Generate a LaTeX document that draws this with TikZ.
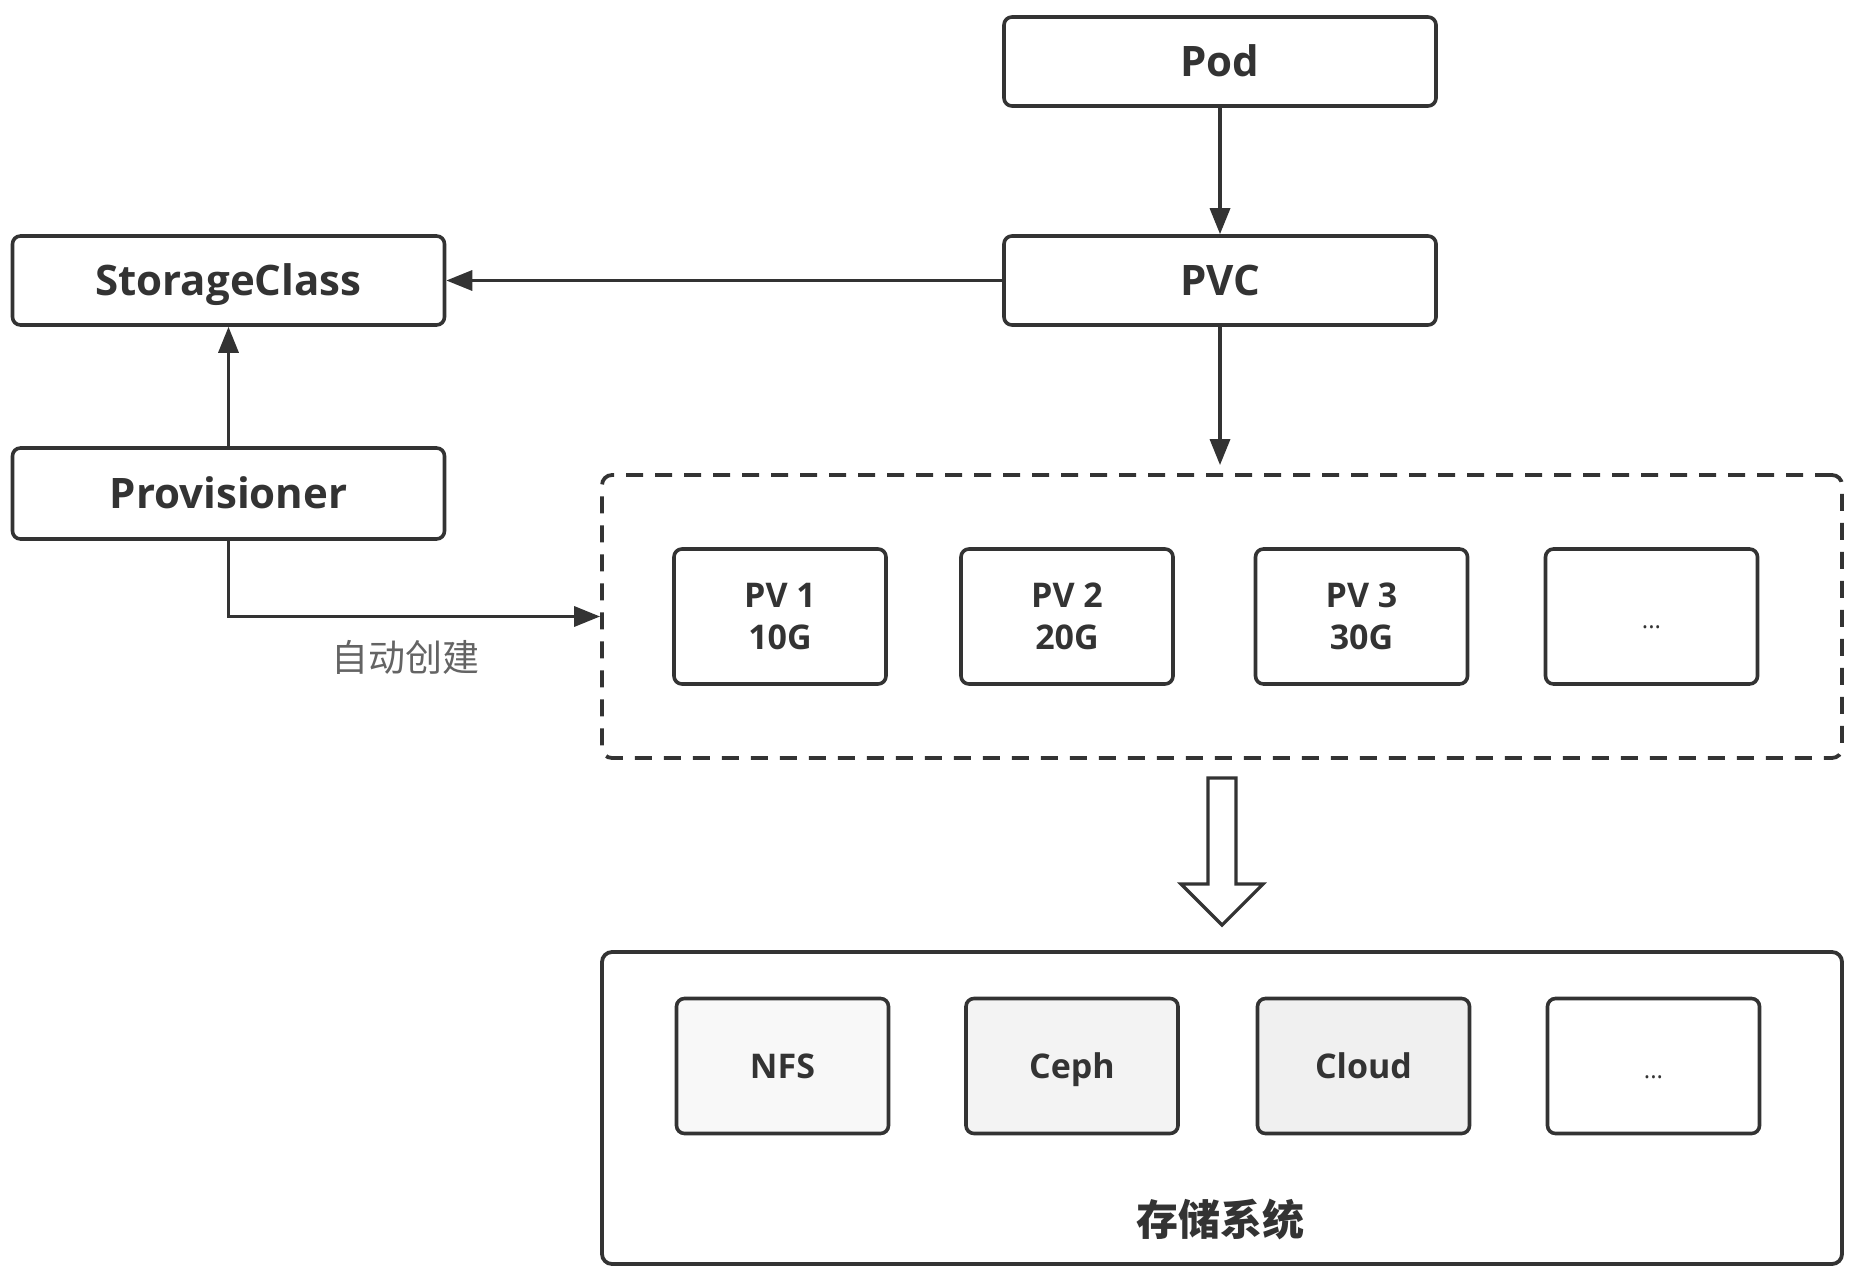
\documentclass[tikz,border=0pt]{standalone}
\usepackage{fontspec}
\setmainfont{Open Sans}
\newfontfamily\cjk{Noto Sans CJK SC}
\usetikzlibrary{arrows.meta}
\definecolor{ln}{HTML}{333333}
\begin{document}
\begin{tikzpicture}[x=0.5pt,y=-0.5pt,
  box/.style={draw=ln,line width=1.8pt,rounded corners=4pt,fill=white,
    minimum width=216pt,minimum height=44.5pt,inner sep=0pt,
    text height=15pt,text depth=0pt,
    font=\fontsize{21}{24}\selectfont\bfseries,text=ln},
  small/.style={draw=ln,line width=1.8pt,rounded corners=4pt,
    minimum width=106pt,minimum height=67.5pt,inner sep=0pt,align=center,
    font=\fontsize{17}{21}\selectfont\bfseries,text=ln},
  one/.style={small,text height=12pt,text depth=0pt},
  dots/.style={one,font=\fontsize{12}{14}\selectfont},
  group/.style={draw=ln,line width=1.9pt,rounded corners=5pt,
    minimum width=620pt,inner sep=0pt},
  arr/.style={draw=ln,line width=1.7pt,-{Triangle[length=13pt,width=10pt]}}]
\useasboundingbox (0,0) rectangle (1852,1273);
\node[box] (pod) at (1220,61.5) {Pod};
\node[box] (pvc) at (1220,280.5) {PVC};
\node[box] (sc) at (228.5,280.5) {StorageClass};
\node[box,minimum height=45.5pt] (prov) at (228.5,493.5) {Provisioner};
\node[group,dash pattern=on 8.5pt off 6pt,minimum height=141.5pt] (pvs) at (1222,616.5) {};
\node[small] (pv1) at (780,616.5) {PV 1\\10G};
\node[small] (pv2) at (1067,616.5) {PV 2\\20G};
\node[small] (pv3) at (1361.5,616.5) {PV 3\\30G};
\node[dots] (pvx) at (1651.5,616.5) {...};
\node[group,minimum height=156pt] (st) at (1222,1108) {};
\node[one,fill={rgb,255:red,248;green,248;blue,248}] (nfs) at (782.5,1066) {NFS};
\node[one,fill={rgb,255:red,243;green,243;blue,243}] (ceph) at (1072,1066) {Ceph};
\node[one,fill={rgb,255:red,240;green,240;blue,240}] (cloud) at (1363.5,1066) {Cloud};
\node[dots] (stx) at (1653.5,1066) {...};
\node[font=\cjk\fontsize{21}{24}\selectfont\bfseries,text=ln] (stl) at (1220,1219) {存储系统};
\draw[arr] (pod) -- (pvc);
\draw[arr] (pvc) -- (sc);
\draw[arr,shorten >=4pt] (pvc.south) -- (pvs.north -| pvc.south);
\draw[arr] (prov) -- (sc);
\draw[arr] (prov.south) |- (pvs.west);
\node[font=\cjk\fontsize{18.5}{20}\selectfont,text={rgb,255:red,100;green,100;blue,100}] (lab) at (405,657) {自动创建};
\coordinate (ba) at (1222,778);
\draw[ln,line width=1.6pt,line join=miter,fill=white]
  ([xshift=-7pt]ba) -- ([xshift=7pt]ba) -- ([xshift=7pt,yshift=-53pt]ba)
  -- ([xshift=20.5pt,yshift=-53pt]ba) -- ([yshift=-73.5pt]ba)
  -- ([xshift=-20.5pt,yshift=-53pt]ba) -- ([xshift=-7pt,yshift=-53pt]ba) -- cycle;
\end{tikzpicture}
\end{document}
